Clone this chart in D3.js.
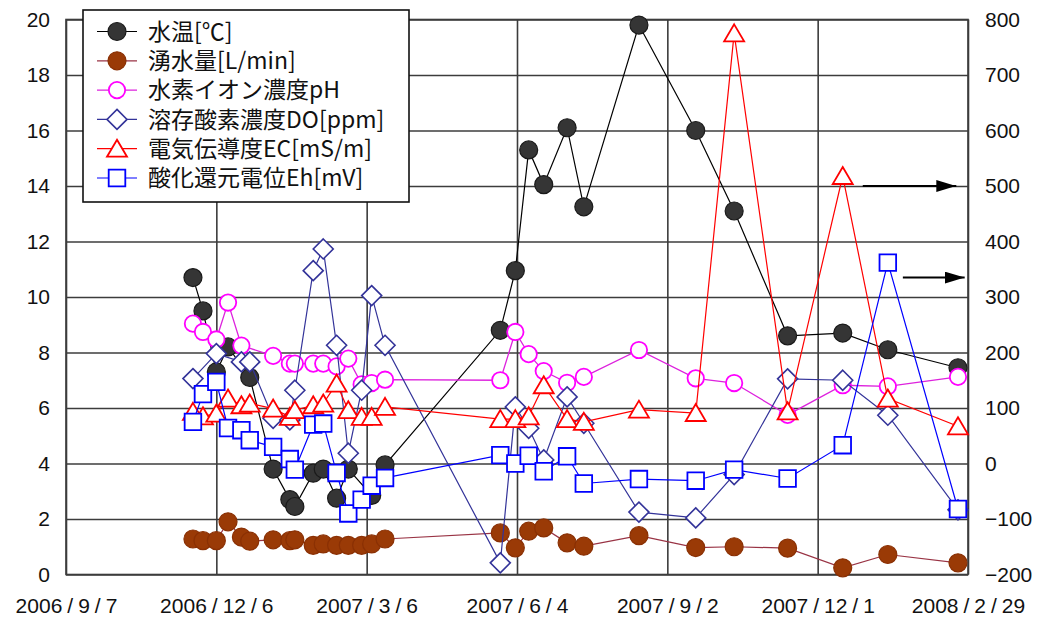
<!DOCTYPE html>
<html>
<head>
<meta charset="utf-8">
<script src="https://cdn.jsdelivr.net/npm/d3@7"></script>
<style>
  html, body { margin: 0; padding: 0; background: #fff; }
  svg { display: block; }
</style>
</head>
<body>
<svg id="chart" width="1048" height="619"></svg>
<script>
// Survey dates (spring water monitoring)
const surveyDates = [
  "2006/11/22", "2006/11/28", "2006/12/6", "2006/12/13", "2006/12/21", "2006/12/26",
  "2007/1/9", "2007/1/19", "2007/1/22", "2007/2/2", "2007/2/8", "2007/2/16",
  "2007/2/23", "2007/3/3", "2007/3/9", "2007/3/17",
  "2007/5/25", "2007/6/3", "2007/6/11", "2007/6/20", "2007/7/4", "2007/7/14",
  "2007/8/16", "2007/9/19", "2007/10/12", "2007/11/13", "2007/12/16", "2008/1/12", "2008/2/23"
];

// Left axis series
const waterTemp = [10.7, 9.5, 7.3, 8.2, null, 7.1, 3.8, 2.7, 2.45, 3.65, 3.8, 2.75, 3.8, null, 2.85, 3.95,
  8.8, 10.95, 15.3, 14.05, 16.1, 13.25, 19.8, 16.0, 13.1, 8.6, 8.7, 8.1, 7.45];
const springFlow = [1.28, 1.22, 1.22, 1.9, 1.35, 1.2, 1.25, 1.22, 1.25, 1.05, 1.1, 1.05, 1.05, 1.05, 1.1, 1.28,
  1.5, 0.96, 1.56, 1.68, 1.14, 1.02, 1.4, 0.97, 1.0, 0.95, 0.24, 0.72, 0.42];
const phValue = [9.04, 8.74, 8.47, 9.8, 8.25, null, 7.88, 7.6, 7.6, 7.6, 7.6, 7.5, 7.78, 6.85, 6.9, 7.02,
  7.0, 8.74, 7.94, 7.33, 6.91, 7.12, 8.09, 7.07, 6.9, 5.75, 6.82, 6.78, 7.12];
const dissolvedO2 = [7.06, null, 7.96, null, 7.66, 7.66, 5.63, 5.57, 6.64, 10.95, 11.73, 8.26, 4.37, 6.64, 10.05, 8.26,
  0.42, 6.04, 5.27, 4.13, 6.4, 5.45, 2.25, 2.04, 3.6, 7.05, 7.0, 5.74, 2.33];

// Right axis series
const conductivity = [93, 85, 90, 117, 105, 108, 99, 84, 96, 105, 108, 144, 96, 84, 84, 102,
  80, 80, 85, 141, 80, 75, 97, 91, 775, 94, 518, 117, 67];
const redoxPotential = [75, 125, 147, 64, 60, 42, 30, 8, -11, 70, 72, -17, -90, -65, -40, -26,
  15, 0, 14, -14, 13, -36, -28, -31, -11, -27, 33, 362, -82];

// Axis ticks
const xTickLabels = ["2006/9/7", "2006/12/6", "2007/3/6", "2007/6/4", "2007/9/2", "2007/12/1", "2008/2/29"];
const leftTicks = [0, 2, 4, 6, 8, 10, 12, 14, 16, 18, 20];
const rightTicks = [-200, -100, 0, 100, 200, 300, 400, 500, 600, 700, 800];

const legendLabels = ["水温[℃]", "湧水量[L/min]", "水素イオン濃度pH", "溶存酸素濃度DO[ppm]", "電気伝導度EC[mS/m]", "酸化還元電位Eh[mV]"];

// ---------------------------------------------------------------
const parse = d3.timeParse("%Y/%m/%d");
const dates = surveyDates.map(parse);
const xTicks = xTickLabels.map(parse);

const plot = { left: 66, right: 968, top: 19.5, bottom: 574.5 };

const x = d3.scaleTime()
  .domain([xTicks[0], xTicks[xTicks.length - 1]])
  .range([plot.left, plot.right]);
const yL = d3.scaleLinear().domain([0, 20]).range([plot.bottom, plot.top]);
const yR = d3.scaleLinear().domain([-200, 800]).range([plot.bottom, plot.top]);

const svg = d3.select("#chart");
svg.append("rect").attr("width", 1048).attr("height", 619).attr("fill", "#fff");

const gridColor = "#3c3c3c";
const tickFont = "'Liberation Sans', Arial, sans-serif";

// Horizontal gridlines + left labels
const gLeft = svg.append("g")
  .attr("transform", `translate(${plot.left},0)`)
  .call(d3.axisLeft(yL).tickValues(leftTicks).tickSize(-(plot.right - plot.left)).tickPadding(16));
gLeft.select(".domain").remove();
gLeft.selectAll(".tick line").attr("stroke", gridColor).attr("stroke-width", 1.6);
gLeft.selectAll(".tick text").attr("font-family", tickFont).attr("font-size", 21).attr("fill", "#111");

// Vertical gridlines + bottom labels
const fmtDate = d => `${d.getFullYear()}/${d.getMonth() + 1}/${d.getDate()}`;
const gBottom = svg.append("g")
  .attr("transform", `translate(0,${plot.bottom})`)
  .call(d3.axisBottom(x).tickValues(xTicks).tickSize(-(plot.bottom - plot.top)).tickPadding(24).tickFormat(fmtDate));
gBottom.select(".domain").remove();
gBottom.selectAll(".tick line").attr("stroke", gridColor).attr("stroke-width", 1.6);
gBottom.selectAll(".tick text")
  .attr("font-family", tickFont).attr("font-size", 21).attr("fill", "#111")
  .each(function (d) {
    const t = d3.select(this);
    const parts = fmtDate(d).split("/");
    t.text(null);
    parts.forEach((p, i) => {
      if (i > 0) t.append("tspan").attr("dx", 5).text("/");
      t.append("tspan").attr("dx", i > 0 ? 5 : 0).text(p);
    });
  });

// Right labels
const gRight = svg.append("g")
  .attr("transform", `translate(${plot.right},0)`)
  .call(d3.axisRight(yR).tickValues(rightTicks).tickSize(0).tickPadding(17));
gRight.select(".domain").remove();
gRight.selectAll(".tick text").attr("font-family", tickFont).attr("font-size", 21).attr("fill", "#111");

// Plot frame
svg.append("rect")
  .attr("x", plot.left).attr("y", plot.top)
  .attr("width", plot.right - plot.left).attr("height", plot.bottom - plot.top)
  .attr("fill", "none").attr("stroke", gridColor).attr("stroke-width", 1.6);

// Marker shapes
const shapes = {
  circle: r => `M${-r},0A${r},${r} 0 1,0 ${r},0A${r},${r} 0 1,0 ${-r},0Z`,
  diamond: r => `M0,${-r}L${r},0L0,${r}L${-r},0Z`,
  triangle: r => `M0,${-r * 0.9}L${r},${r * 0.8}L${-r},${r * 0.8}Z`,
  square: r => `M${-r},${-r}H${r}V${r}H${-r}Z`
};

const series = [
  { name: legendLabels[0], values: waterTemp, y: yL, line: "#000", lw: 1.2, shape: "circle", size: 9, fill: "#353535", stroke: "#1a1a1a", sw: 1.2 },
  { name: legendLabels[1], values: springFlow, y: yL, line: "#993344", lw: 1.2, shape: "circle", size: 9, fill: "#9a3a06", stroke: "#8a3004", sw: 1.2 },
  { name: legendLabels[2], values: phValue, y: yL, line: "#dd22dd", lw: 1.3, shape: "circle", size: 8.2, fill: "#fff", stroke: "#ff00ff", sw: 1.8 },
  { name: legendLabels[3], values: dissolvedO2, y: yL, line: "#333399", lw: 1.2, shape: "diamond", size: 10, fill: "#fff", stroke: "#333399", sw: 1.6 },
  { name: legendLabels[4], values: conductivity, y: yR, line: "#ff0000", lw: 1.2, shape: "triangle", size: 10, fill: "#fff", stroke: "#ff0000", sw: 1.8 },
  { name: legendLabels[5], values: redoxPotential, y: yR, line: "#0000ff", lw: 1.2, shape: "square", size: 8.3, fill: "#fff", stroke: "#0000ff", sw: 1.8 }
];

const line = d3.line().x(d => d.x).y(d => d.y);

series.forEach(s => {
  const pts = dates.map((d, i) => ({ d, v: s.values[i] }))
    .filter(p => p.v !== null)
    .map(p => ({ x: x(p.d), y: s.y(p.v) }));
  const g = svg.append("g");
  g.append("path").attr("d", line(pts)).attr("fill", "none")
    .attr("stroke", s.line).attr("stroke-width", s.lw);
  g.selectAll("path.mk").data(pts).join("path").attr("class", "mk")
    .attr("transform", p => `translate(${p.x},${p.y})`)
    .attr("d", shapes[s.shape](s.size))
    .attr("fill", s.fill).attr("stroke", s.stroke).attr("stroke-width", s.sw);
});

// Arrows pointing to the right-hand axis
svg.append("defs").append("marker")
  .attr("id", "arrowHead").attr("viewBox", "0 0 20 12")
  .attr("refX", 20).attr("refY", 6)
  .attr("markerWidth", 20).attr("markerHeight", 12)
  .attr("markerUnits", "userSpaceOnUse").attr("orient", "auto")
  .append("path").attr("d", "M0,0L20,6L0,12Z").attr("fill", "#000");

const arrows = [
  { from: parse("2007/12/28"), to: parse("2008/2/22"), v: 500 },
  { from: parse("2008/1/21"), to: parse("2008/2/27"), v: 335 }
];
arrows.forEach(a => {
  svg.append("line")
    .attr("x1", x(a.from)).attr("x2", x(a.to))
    .attr("y1", yR(a.v)).attr("y2", yR(a.v))
    .attr("stroke", "#000").attr("stroke-width", 2)
    .attr("marker-end", "url(#arrowHead)");
});

// Legend
const lg = svg.append("g");
lg.append("rect").attr("x", 83).attr("y", 10).attr("width", 326).attr("height", 192)
  .attr("fill", "#fff").attr("stroke", "#111").attr("stroke-width", 1.6);
series.forEach((s, i) => {
  const cy = 31.5 + i * 29.3;
  lg.append("line").attr("x1", 97).attr("x2", 137).attr("y1", cy).attr("y2", cy)
    .attr("stroke", s.line).attr("stroke-width", s.lw);
  lg.append("path").attr("transform", `translate(117,${cy})`)
    .attr("d", shapes[s.shape](s.size))
    .attr("fill", s.fill).attr("stroke", s.stroke).attr("stroke-width", s.sw);
  lg.append("text").attr("x", 148).attr("y", cy).attr("dy", "0.36em")
    .attr("font-family", "'Noto Sans CJK JP', sans-serif").attr("font-size", 23)
    .attr("fill", "#111").text(s.name);
});
</script>
</body>
</html>
